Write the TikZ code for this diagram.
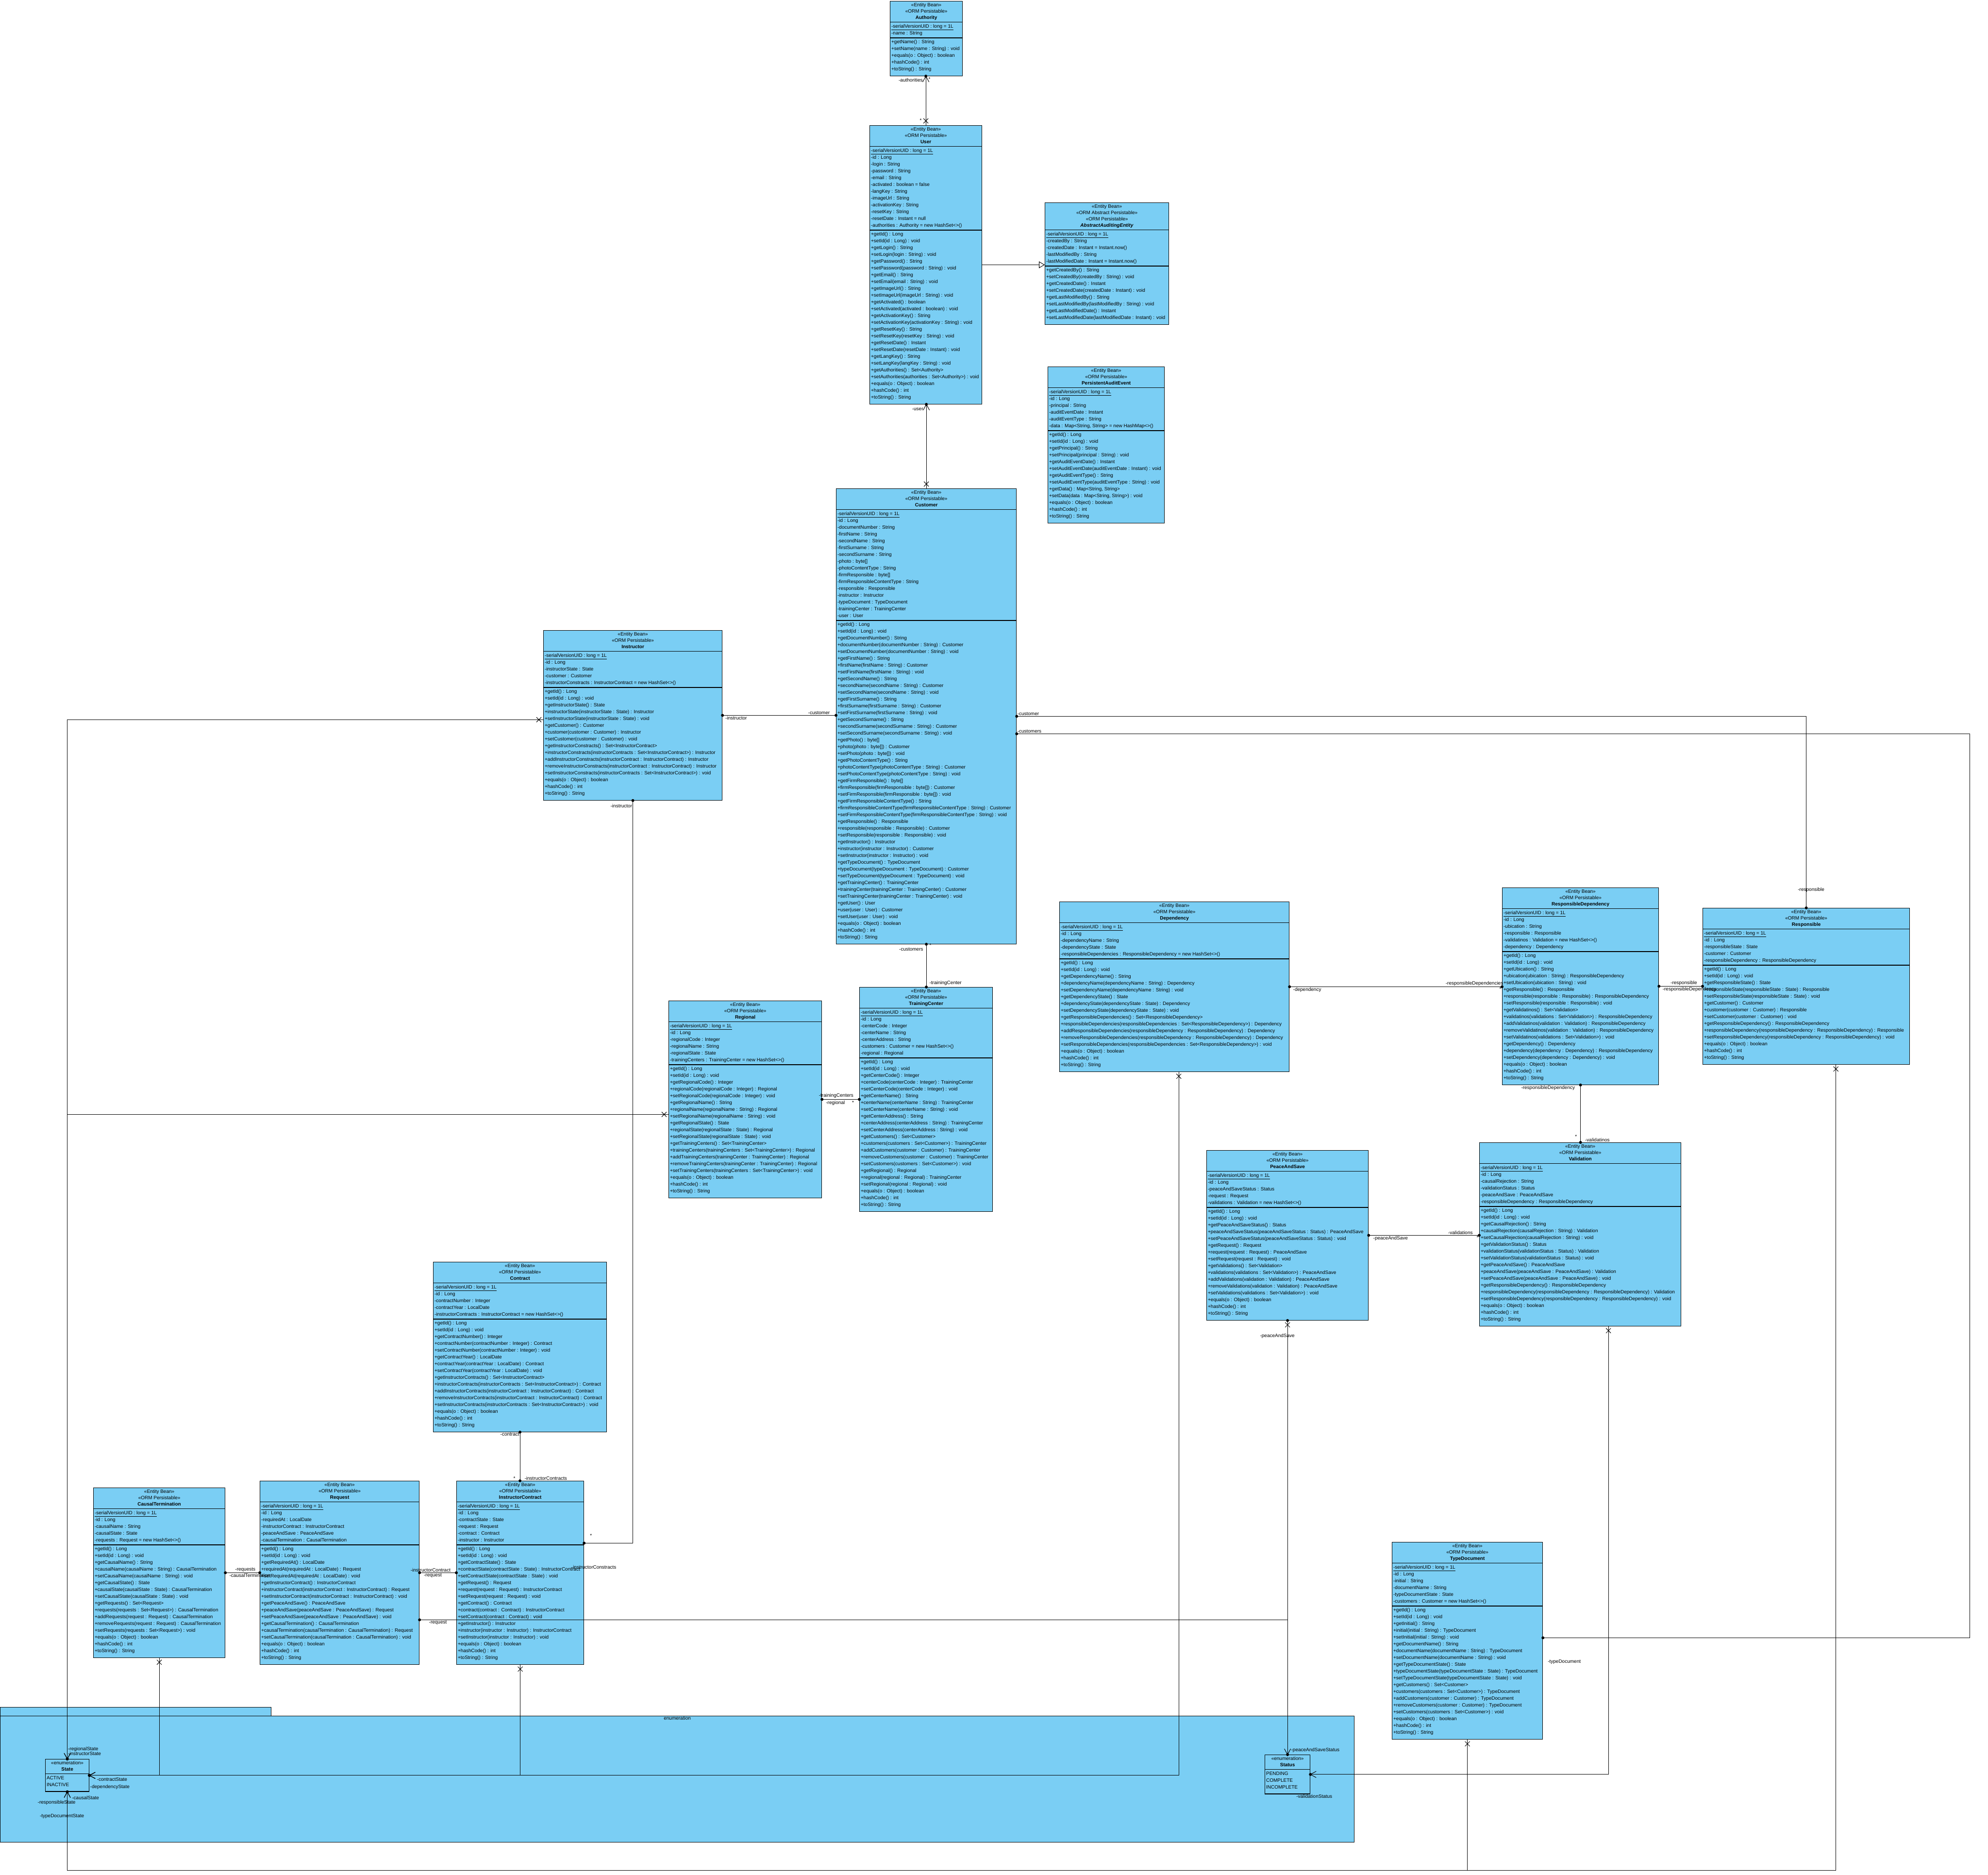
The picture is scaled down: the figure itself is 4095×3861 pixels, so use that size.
\documentclass[tikz,border=0pt]{standalone}
\usepackage{fontspec}
\setmainfont{Liberation Sans}
\usetikzlibrary{arrows.meta,positioning,shapes.multipart,decorations.markings}
\definecolor{vpblue}{HTML}{7ACEF4}
\newcommand\clshead[1]{{\def\arraystretch{.9286}\begin{tabular}{@{}c@{}}#1\end{tabular}}}
\newcommand\clsattr[1]{\begin{tabular}{@{}l@{}}#1\end{tabular}}
\newcommand\clsops[1]{\begin{tabular}{@{}l@{}}#1\\[4pt]\end{tabular}}
\newcommand\ebhead[1]{\clshead{<<Entity Bean>>\\<<ORM Persistable>>\\\textbf{#1}}}
\newcommand\suid{\underline{-serialVersionUID : long = 1L}}
\tikzset{cls/.style={rectangle split,rectangle split parts=3,rectangle split part align={center,left,left},draw,line width=1.2pt,fill=vpblue,inner xsep=2.5pt,inner ysep=1.5pt,anchor=north west,font=\fontsize{10}{14}\selectfont},enumcls/.style={cls,rectangle split parts=2,rectangle split part align={center,left}},pkgbox/.style={draw,line width=1.2pt,fill=vpblue,anchor=north west,inner sep=0pt},assoc/.style={line width=1pt},lbl/.style={font=\fontsize{10}{12}\selectfont,inner sep=1pt},gen/.style={assoc,-{Triangle[fill=white,length=12pt,width=14pt]}},dotA/.style={postaction={decorate,decoration={markings,mark=at position 0 with {\fill circle (3pt);}}}},dotB/.style={postaction={decorate,decoration={markings,mark=at position 1 with {\fill circle (3pt);}}}},navB/.style={dotB,postaction={decorate,decoration={markings,mark=at position 1 with {\draw[line width=1pt] (-12pt,6.5pt) -- (0pt,0pt) -- (-12pt,-6.5pt);}}}},crossA/.style={postaction={decorate,decoration={markings,mark=at position 9pt with {\draw[line width=1pt] (-5pt,-5pt) -- (5pt,5pt) (-5pt,5pt) -- (5pt,-5pt);}}}}}

\begin{document}
\begin{tikzpicture}[x=1pt,y=-1pt]
\useasboundingbox (0,0) rectangle (4095,3861);
% enumeration package
\node[pkgbox,minimum width=558pt,minimum height=18pt] (pkgtab) at (0,3516) {};
\node[pkgbox,minimum width=2789pt,minimum height=260pt,label={[lbl,anchor=north]north:enumeration}] (pkg) at (0,3534) {};
\coordinate (rail) at (0,3852);
% classes
\node[cls,minimum width=149pt] (authority) at (1833,2) {\ebhead{Authority}\nodepart{two}\clsattr{\suid\\-name : String}\nodepart{three}\clsops{+getName() : String\\+setName(name : String) : void\\+equals(o : Object) : boolean\\+hashCode() : int\\+toString() : String}};
\node[cls,minimum width=231pt] (user) at (1791,258) {\ebhead{User}\nodepart{two}\clsattr{\suid\\-id : Long\\-login : String\\-password : String\\-email : String\\-activated : boolean = false\\-langKey : String\\-imageUrl : String\\-activationKey : String\\-resetKey : String\\-resetDate : Instant = null\\-authorities : Authority = new HashSet<>()}\nodepart{three}\clsops{+getId() : Long\\+setId(id : Long) : void\\+getLogin() : String\\+setLogin(login : String) : void\\+getPassword() : String\\+setPassword(password : String) : void\\+getEmail() : String\\+setEmail(email : String) : void\\+getImageUrl() : String\\+setImageUrl(imageUrl : String) : void\\+getActivated() : boolean\\+setActivated(activated : boolean) : void\\+getActivationKey() : String\\+setActivationKey(activationKey : String) : void\\+getResetKey() : String\\+setResetKey(resetKey : String) : void\\+getResetDate() : Instant\\+setResetDate(resetDate : Instant) : void\\+getLangKey() : String\\+setLangKey(langKey : String) : void\\+getAuthorities() : Set<Authority>\\+setAuthorities(authorities : Set<Authority>) : void\\+equals(o : Object) : boolean\\+hashCode() : int\\+toString() : String}};
\node[cls,minimum width=255pt] (auditing) at (2152,417) {\clshead{<<Entity Bean>>\\<<ORM Abstract Persistable>>\\<<ORM Persistable>>\\\textbf{\textit{AbstractAuditingEntity}}}\nodepart{two}\clsattr{\suid\\-createdBy : String\\-createdDate : Instant = Instant.now()\\-lastModifiedBy : String\\-lastModifiedDate : Instant = Instant.now()}\nodepart{three}\clsops{+getCreatedBy() : String\\+setCreatedBy(createdBy : String) : void\\+getCreatedDate() : Instant\\+setCreatedDate(createdDate : Instant) : void\\+getLastModifiedBy() : String\\+setLastModifiedBy(lastModifiedBy : String) : void\\+getLastModifiedDate() : Instant\\+setLastModifiedDate(lastModifiedDate : Instant) : void}};
\node[cls,minimum width=240pt] (auditevent) at (2158,755) {\ebhead{PersistentAuditEvent}\nodepart{two}\clsattr{\suid\\-id : Long\\-principal : String\\-auditEventDate : Instant\\-auditEventType : String\\-data : Map<String, String> = new HashMap<>()}\nodepart{three}\clsops{+getId() : Long\\+setId(id : Long) : void\\+getPrincipal() : String\\+setPrincipal(principal : String) : void\\+getAuditEventDate() : Instant\\+setAuditEventDate(auditEventDate : Instant) : void\\+getAuditEventType() : String\\+setAuditEventType(auditEventType : String) : void\\+getData() : Map<String, String>\\+setData(data : Map<String, String>) : void\\+equals(o : Object) : boolean\\+hashCode() : int\\+toString() : String}};
\node[cls,minimum width=371pt] (customer) at (1722,1006) {\ebhead{Customer}\nodepart{two}\clsattr{\suid\\-id : Long\\-documentNumber : String\\-firstName : String\\-secondName : String\\-firstSurname : String\\-secondSurname : String\\-photo : byte[]\\-photoContentType : String\\-firmResponsible : byte[]\\-firmResponsibleContentType : String\\-responsible : Responsible\\-instructor : Instructor\\-typeDocument : TypeDocument\\-trainingCenter : TrainingCenter\\-user : User}\nodepart{three}\clsops{+getId() : Long\\+setId(id : Long) : void\\+getDocumentNumber() : String\\+documentNumber(documentNumber : String) : Customer\\+setDocumentNumber(documentNumber : String) : void\\+getFirstName() : String\\+firstName(firstName : String) : Customer\\+setFirstName(firstName : String) : void\\+getSecondName() : String\\+secondName(secondName : String) : Customer\\+setSecondName(secondName : String) : void\\+getFirstSurname() : String\\+firstSurname(firstSurname : String) : Customer\\+setFirstSurname(firstSurname : String) : void\\+getSecondSurname() : String\\+secondSurname(secondSurname : String) : Customer\\+setSecondSurname(secondSurname : String) : void\\+getPhoto() : byte[]\\+photo(photo : byte[]) : Customer\\+setPhoto(photo : byte[]) : void\\+getPhotoContentType() : String\\+photoContentType(photoContentType : String) : Customer\\+setPhotoContentType(photoContentType : String) : void\\+getFirmResponsible() : byte[]\\+firmResponsible(firmResponsible : byte[]) : Customer\\+setFirmResponsible(firmResponsible : byte[]) : void\\+getFirmResponsibleContentType() : String\\+firmResponsibleContentType(firmResponsibleContentType : String) : Customer\\+setFirmResponsibleContentType(firmResponsibleContentType : String) : void\\+getResponsible() : Responsible\\+responsible(responsible : Responsible) : Customer\\+setResponsible(responsible : Responsible) : void\\+getInstructor() : Instructor\\+instructor(instructor : Instructor) : Customer\\+setInstructor(instructor : Instructor) : void\\+getTypeDocument() : TypeDocument\\+typeDocument(typeDocument : TypeDocument) : Customer\\+setTypeDocument(typeDocument : TypeDocument) : void\\+getTrainingCenter() : TrainingCenter\\+trainingCenter(trainingCenter : TrainingCenter) : Customer\\+setTrainingCenter(trainingCenter : TrainingCenter) : void\\+getUser() : User\\+user(user : User) : Customer\\+setUser(user : User) : void\\+equals(o : Object) : boolean\\+hashCode() : int\\+toString() : String}};
\node[cls,minimum width=368pt] (instructor) at (1119,1298) {\ebhead{Instructor}\nodepart{two}\clsattr{\suid\\-id : Long\\-instructorState : State\\-customer : Customer\\-instructorConstracts : InstructorContract = new HashSet<>()}\nodepart{three}\clsops{+getId() : Long\\+setId(id : Long) : void\\+getInstructorState() : State\\+instructorState(instructorState : State) : Instructor\\+setInstructorState(instructorState : State) : void\\+getCustomer() : Customer\\+customer(customer : Customer) : Instructor\\+setCustomer(customer : Customer) : void\\+getInstructorConstracts() : Set<InstructorContract>\\+instructorConstracts(instructorContracts : Set<InstructorContract>) : Instructor\\+addInstructorConstracts(instructorContract : InstructorContract) : Instructor\\+removeInstructorConstracts(instructorContract : InstructorContract) : Instructor\\+setInstructorConstracts(instructorContracts : Set<InstructorContract>) : void\\+equals(o : Object) : boolean\\+hashCode() : int\\+toString() : String}};
\node[cls,minimum width=315pt] (regional) at (1377,2061) {\ebhead{Regional}\nodepart{two}\clsattr{\suid\\-id : Long\\-regionalCode : Integer\\-regionalName : String\\-regionalState : State\\-trainingCenters : TrainingCenter = new HashSet<>()}\nodepart{three}\clsops{+getId() : Long\\+setId(id : Long) : void\\+getRegionalCode() : Integer\\+regionalCode(regionalCode : Integer) : Regional\\+setRegionalCode(regionalCode : Integer) : void\\+getRegionalName() : String\\+regionalName(regionalName : String) : Regional\\+setRegionalName(regionalName : String) : void\\+getRegionalState() : State\\+regionalState(regionalState : State) : Regional\\+setRegionalState(regionalState : State) : void\\+getTrainingCenters() : Set<TrainingCenter>\\+trainingCenters(trainingCenters : Set<TrainingCenter>) : Regional\\+addTrainingCenters(trainingCenter : TrainingCenter) : Regional\\+removeTrainingCenters(trainingCenter : TrainingCenter) : Regional\\+setTrainingCenters(trainingCenters : Set<TrainingCenter>) : void\\+equals(o : Object) : boolean\\+hashCode() : int\\+toString() : String}};
\node[cls,minimum width=274pt] (center) at (1770,2033) {\ebhead{TrainingCenter}\nodepart{two}\clsattr{\suid\\-id : Long\\-centerCode : Integer\\-centerName : String\\-centerAddress : String\\-customers : Customer = new HashSet<>()\\-regional : Regional}\nodepart{three}\clsops{+getId() : Long\\+setId(id : Long) : void\\+getCenterCode() : Integer\\+centerCode(centerCode : Integer) : TrainingCenter\\+setCenterCode(centerCode : Integer) : void\\+getCenterName() : String\\+centerName(centerName : String) : TrainingCenter\\+setCenterName(centerName : String) : void\\+getCenterAddress() : String\\+centerAddress(centerAddress : String) : TrainingCenter\\+setCenterAddress(centerAddress : String) : void\\+getCustomers() : Set<Customer>\\+customers(customers : Set<Customer>) : TrainingCenter\\+addCustomers(customer : Customer) : TrainingCenter\\+removeCustomers(customer : Customer) : TrainingCenter\\+setCustomers(customers : Set<Customer>) : void\\+getRegional() : Regional\\+regional(regional : Regional) : TrainingCenter\\+setRegional(regional : Regional) : void\\+equals(o : Object) : boolean\\+hashCode() : int\\+toString() : String}};
\node[cls,minimum width=473pt] (dependency) at (2182,1857) {\ebhead{Dependency}\nodepart{two}\clsattr{\suid\\-id : Long\\-dependencyName : String\\-dependencyState : State\\-responsibleDependencies : ResponsibleDependency = new HashSet<>()}\nodepart{three}\clsops{+getId() : Long\\+setId(id : Long) : void\\+getDependencyName() : String\\+dependencyName(dependencyName : String) : Dependency\\+setDependencyName(dependencyName : String) : void\\+getDependencyState() : State\\+dependencyState(dependencyState : State) : Dependency\\+setDependencyState(dependencyState : State) : void\\+getResponsibleDependencies() : Set<ResponsibleDependency>\\+responsibleDependencies(responsibleDependencies : Set<ResponsibleDependency>) : Dependency\\+addResponsibleDependencies(responsibleDependency : ResponsibleDependency) : Dependency\\+removeResponsibleDependencies(responsibleDependency : ResponsibleDependency) : Dependency\\+setResponsibleDependencies(responsibleDependencies : Set<ResponsibleDependency>) : void\\+equals(o : Object) : boolean\\+hashCode() : int\\+toString() : String}};
\node[cls,minimum width=333pt] (peace) at (2485,2369) {\ebhead{PeaceAndSave}\nodepart{two}\clsattr{\suid\\-id : Long\\-peaceAndSaveStatus : Status\\-request : Request\\-validations : Validation = new HashSet<>()}\nodepart{three}\clsops{+getId() : Long\\+setId(id : Long) : void\\+getPeaceAndSaveStatus() : Status\\+peaceAndSaveStatus(peaceAndSaveStatus : Status) : PeaceAndSave\\+setPeaceAndSaveStatus(peaceAndSaveStatus : Status) : void\\+getRequest() : Request\\+request(request : Request) : PeaceAndSave\\+setRequest(request : Request) : void\\+getValidations() : Set<Validation>\\+validations(validations : Set<Validation>) : PeaceAndSave\\+addValidations(validation : Validation) : PeaceAndSave\\+removeValidations(validation : Validation) : PeaceAndSave\\+setValidations(validations : Set<Validation>) : void\\+equals(o : Object) : boolean\\+hashCode() : int\\+toString() : String}};
\node[cls,minimum width=322pt] (respdep) at (3094,1828) {\ebhead{ResponsibleDependency}\nodepart{two}\clsattr{\suid\\-id : Long\\-ubication : String\\-responsible : Responsible\\-validatinos : Validation = new HashSet<>()\\-dependency : Dependency}\nodepart{three}\clsops{+getId() : Long\\+setId(id : Long) : void\\+getUbication() : String\\+ubication(ubication : String) : ResponsibleDependency\\+setUbication(ubication : String) : void\\+getResponsible() : Responsible\\+responsible(responsible : Responsible) : ResponsibleDependency\\+setResponsible(responsible : Responsible) : void\\+getValidatinos() : Set<Validation>\\+validatinos(validations : Set<Validation>) : ResponsibleDependency\\+addValidatinos(validation : Validation) : ResponsibleDependency\\+removeValidatinos(validation : Validation) : ResponsibleDependency\\+setValidatinos(validations : Set<Validation>) : void\\+getDependency() : Dependency\\+dependency(dependency : Dependency) : ResponsibleDependency\\+setDependency(dependency : Dependency) : void\\+equals(o : Object) : boolean\\+hashCode() : int\\+toString() : String}};
\node[cls,minimum width=426pt] (responsible) at (3507,1870) {\ebhead{Responsible}\nodepart{two}\clsattr{\suid\\-id : Long\\-responsibleState : State\\-customer : Customer\\-responsibleDependency : ResponsibleDependency}\nodepart{three}\clsops{+getId() : Long\\+setId(id : Long) : void\\+getResponsibleState() : State\\+responsibleState(responsibleState : State) : Responsible\\+setResponsibleState(responsibleState : State) : void\\+getCustomer() : Customer\\+customer(customer : Customer) : Responsible\\+setCustomer(customer : Customer) : void\\+getResponsibleDependency() : ResponsibleDependency\\+responsibleDependency(responsibleDependency : ResponsibleDependency) : Responsible\\+setResponsibleDependency(responsibleDependency : ResponsibleDependency) : void\\+equals(o : Object) : boolean\\+hashCode() : int\\+toString() : String}};
\node[cls,minimum width=415pt] (validation) at (3047,2353) {\ebhead{Validation}\nodepart{two}\clsattr{\suid\\-id : Long\\-causalRejection : String\\-validationStatus : Status\\-peaceAndSave : PeaceAndSave\\-responsibleDependency : ResponsibleDependency}\nodepart{three}\clsops{+getId() : Long\\+setId(id : Long) : void\\+getCausalRejection() : String\\+causalRejection(causalRejection : String) : Validation\\+setCausalRejection(causalRejection : String) : void\\+getValidationStatus() : Status\\+validationStatus(validationStatus : Status) : Validation\\+setValidationStatus(validationStatus : Status) : void\\+getPeaceAndSave() : PeaceAndSave\\+peaceAndSave(peaceAndSave : PeaceAndSave) : Validation\\+setPeaceAndSave(peaceAndSave : PeaceAndSave) : void\\+getResponsibleDependency() : ResponsibleDependency\\+responsibleDependency(responsibleDependency : ResponsibleDependency) : Validation\\+setResponsibleDependency(responsibleDependency : ResponsibleDependency) : void\\+equals(o : Object) : boolean\\+hashCode() : int\\+toString() : String}};
\node[cls,minimum width=357pt] (contract) at (892,2599) {\ebhead{Contract}\nodepart{two}\clsattr{\suid\\-id : Long\\-contractNumber : Integer\\-contractYear : LocalDate\\-instructorContracts : InstructorContract = new HashSet<>()}\nodepart{three}\clsops{+getId() : Long\\+setId(id : Long) : void\\+getContractNumber() : Integer\\+contractNumber(contractNumber : Integer) : Contract\\+setContractNumber(contractNumber : Integer) : void\\+getContractYear() : LocalDate\\+contractYear(contractYear : LocalDate) : Contract\\+setContractYear(contractYear : LocalDate) : void\\+getInstructorContracts() : Set<InstructorContract>\\+instructorContracts(instructorContracts : Set<InstructorContract>) : Contract\\+addInstructorContracts(instructorContract : InstructorContract) : Contract\\+removeInstructorContracts(instructorContract : InstructorContract) : Contract\\+setInstructorContracts(instructorContracts : Set<InstructorContract>) : void\\+equals(o : Object) : boolean\\+hashCode() : int\\+toString() : String}};
\node[cls,minimum width=271pt] (causal) at (192,3064) {\ebhead{CausalTermination}\nodepart{two}\clsattr{\suid\\-id : Long\\-causalName : String\\-causalState : State\\-requests : Request = new HashSet<>()}\nodepart{three}\clsops{+getId() : Long\\+setId(id : Long) : void\\+getCausalName() : String\\+causalName(causalName : String) : CausalTermination\\+setCausalName(causalName : String) : void\\+getCausalState() : State\\+causalState(causalState : State) : CausalTermination\\+setCausalState(causalState : State) : void\\+getRequests() : Set<Request>\\+requests(requests : Set<Request>) : CausalTermination\\+addRequests(request : Request) : CausalTermination\\+removeRequests(request : Request) : CausalTermination\\+setRequests(requests : Set<Request>) : void\\+equals(o : Object) : boolean\\+hashCode() : int\\+toString() : String}};
\node[cls,minimum width=328pt] (request) at (535,3050) {\ebhead{Request}\nodepart{two}\clsattr{\suid\\-id : Long\\-requiredAt : LocalDate\\-instructorContract : InstructorContract\\-peaceAndSave : PeaceAndSave\\-causalTermination : CausalTermination}\nodepart{three}\clsops{+getId() : Long\\+setId(id : Long) : void\\+getRequiredAt() : LocalDate\\+requiredAt(requiredAt : LocalDate) : Request\\+setRequiredAt(requiredAt : LocalDate) : void\\+getInstructorContract() : InstructorContract\\+instructorContract(instructorContract : InstructorContract) : Request\\+setInstructorContract(instructorContract : InstructorContract) : void\\+getPeaceAndSave() : PeaceAndSave\\+peaceAndSave(peaceAndSave : PeaceAndSave) : Request\\+setPeaceAndSave(peaceAndSave : PeaceAndSave) : void\\+getCausalTermination() : CausalTermination\\+causalTermination(causalTermination : CausalTermination) : Request\\+setCausalTermination(causalTermination : CausalTermination) : void\\+equals(o : Object) : boolean\\+hashCode() : int\\+toString() : String}};
\node[cls,minimum width=262pt] (instcontract) at (940,3050) {\ebhead{InstructorContract}\nodepart{two}\clsattr{\suid\\-id : Long\\-contractState : State\\-request : Request\\-contract : Contract\\-instructor : Instructor}\nodepart{three}\clsops{+getId() : Long\\+setId(id : Long) : void\\+getContractState() : State\\+contractState(contractState : State) : InstructorContract\\+setContractState(contractState : State) : void\\+getRequest() : Request\\+request(request : Request) : InstructorContract\\+setRequest(request : Request) : void\\+getContract() : Contract\\+contract(contract : Contract) : InstructorContract\\+setContract(contract : Contract) : void\\+getInstructor() : Instructor\\+instructor(instructor : Instructor) : InstructorContract\\+setInstructor(instructor : Instructor) : void\\+equals(o : Object) : boolean\\+hashCode() : int\\+toString() : String}};
\node[cls,minimum width=310pt] (typedoc) at (2867,3176) {\ebhead{TypeDocument}\nodepart{two}\clsattr{\suid\\-id : Long\\-initial : String\\-documentName : String\\-typeDocumentState : State\\-customers : Customer = new HashSet<>()}\nodepart{three}\clsops{+getId() : Long\\+setId(id : Long) : void\\+getInitial() : String\\+initial(initial : String) : TypeDocument\\+setInitial(initial : String) : void\\+getDocumentName() : String\\+documentName(documentName : String) : TypeDocument\\+setDocumentName(documentName : String) : void\\+getTypeDocumentState() : State\\+typeDocumentState(typeDocumentState : State) : TypeDocument\\+setTypeDocumentState(typeDocumentState : State) : void\\+getCustomers() : Set<Customer>\\+customers(customers : Set<Customer>) : TypeDocument\\+addCustomers(customer : Customer) : TypeDocument\\+removeCustomers(customer : Customer) : TypeDocument\\+setCustomers(customers : Set<Customer>) : void\\+equals(o : Object) : boolean\\+hashCode() : int\\+toString() : String}};
\node[enumcls,minimum width=90pt] (state) at (93,3623) {\clshead{<<enumeration>>\\\textbf{State}}\nodepart{two}\clsops{ACTIVE\\INACTIVE}};
\node[enumcls,minimum width=93pt] (status) at (2605,3614) {\clshead{<<enumeration>>\\\textbf{Status}}\nodepart{two}\clsops{PENDING\\COMPLETE\\INCOMPLETE}};
% associations
\draw[assoc,crossA,navB] (user.north) -- node[lbl,pos=.92,left=5pt]{-authorities} node[lbl,pos=.94,right=4pt]{*} node[lbl,pos=.1,left=7pt]{*} (user.north |- authority.south);
\draw[gen] (user.east) -- (user.east -| auditing.west);
\draw[assoc,crossA,navB] (customer.north) -- node[lbl,pos=.94,left=5pt]{-user} (customer.north |- user.south);
\draw[assoc,dotA,dotB] (instructor.east) -- node[lbl,pos=.12,below]{-instructor} node[lbl,pos=.85,above]{-customer} (instructor.east -| customer.west);
\draw[assoc,dotA,dotB] (customer.east) -| node[lbl,at start,above right]{-customer} node[lbl,pos=.953,xshift=10pt]{-responsible} (responsible.north);
\draw[assoc,dotA,dotB] ([yshift=-36pt]customer.east) -| node[lbl,at start,above right]{-customers} ([xshift=879pt,yshift=6pt]typedoc.east) -- node[lbl,pos=.95,below=44pt]{-typeDocument} ([yshift=6pt]typedoc.east);
\draw[assoc,dotA,dotB] (customer.south) -- node[lbl,pos=.12,left=5pt]{-customers} node[lbl,pos=.03,right=5pt]{*} node[lbl,pos=.91,right=5pt]{-trainingCenter} (customer.south |- center.north);
\draw[assoc,dotA,dotB] (regional.east) -- node[lbl,pos=.38,above=1pt]{-trainingCenters} node[lbl,pos=.36,below=1pt]{-regional} node[lbl,pos=.83,below=2pt]{*} (regional.east -| center.west);
\draw[assoc,dotA,dotB] (instructor.south) |- node[lbl,at start,below left,yshift=-6pt]{-instructor} node[lbl,pos=.93,above=10pt]{*} node[lbl,pos=.9,below=44pt]{-instructorConstracts} ([yshift=61pt]instcontract.east);
\draw[assoc,crossA,navB] ([yshift=-9pt]instructor.west) -| node[lbl,at end,anchor=south west,yshift=6pt]{-instructorState} (state.north);
\draw[assoc,crossA,navB] ([yshift=-31pt]regional.west) -| node[lbl,at end,anchor=south west,yshift=14pt]{-regionalState} (state.north);
\draw[assoc,dotA,dotB] (dependency.east) -- node[lbl,at start,below right,xshift=6pt]{-dependency} node[lbl,pos=.87,above]{-responsibleDependencies} node[lbl,at end,below left]{*} (dependency.east -| respdep.west);
\draw[assoc,dotA,dotB] (respdep.east) -- node[lbl,pos=.57,above]{-responsible} node[lbl,pos=.7,below]{-responsibleDependency} (respdep.east -| responsible.west);
\draw[assoc,dotA,dotB] (respdep.south) -- node[lbl,at start,below left,xshift=-10pt]{-responsibleDependency} node[lbl,pos=.9,left=6pt]{*} node[lbl,at end,above right,xshift=8pt]{-validatinos} (respdep.south |- validation.north);
\draw[assoc,dotA,dotB] (peace.east) -- node[lbl,at start,below right,xshift=8pt]{-peaceAndSave} node[lbl,pos=.83,above]{-validations} node[lbl,at end,below left]{*} (peace.east -| validation.west);
\draw[assoc,dotA,dotB] (contract.south) -- node[lbl,at start,below left]{-contract} node[lbl,at end,above right,xshift=8pt]{-instructorContracts} node[lbl,at end,above left,xshift=-8pt]{*} (contract.south |- instcontract.north);
\draw[assoc,dotA,dotB] (causal.east) -- node[lbl,pos=.58,above]{-requests} node[lbl,pos=.71,below]{-causalTermination} (causal.east -| request.west);
\draw[assoc,dotA,dotB] (request.east) -- node[lbl,pos=.3,above]{-instructorContract} node[lbl,pos=.36,below]{-request} (request.east -| instcontract.west);
\draw[assoc,dotA,dotB] ([yshift=-97pt]request.east) -| node[lbl,at start,below right,xshift=18pt]{-request} node[lbl,pos=.974,xshift=-21pt]{-peaceAndSave} (peace.south);
\draw[assoc,crossA,navB] (peace.south) -- node[lbl,at end,above right,xshift=6pt,yshift=3pt]{-peaceAndSaveStatus} (peace.south |- status.north);
\draw[assoc,crossA,navB] ([xshift=58pt]validation.south) |- node[lbl,at end,xshift=8pt,yshift=-45pt]{-validationStatus} (status.east);
\draw[assoc,crossA,navB] (causal.south) |- node[lbl,at end,xshift=-8pt,yshift=-46pt]{-causalState} (state.east);
\draw[assoc,crossA,navB] (instcontract.south) |- node[lbl,at end,anchor=north west,xshift=14pt,yshift=-3pt]{-contractState} (state.east);
\draw[assoc,crossA,navB] ([xshift=9pt]dependency.south) |- node[lbl,at end,anchor=west,yshift=-24pt]{-dependencyState} (state.east);
\draw[assoc,crossA,navB] ([xshift=61pt]responsible.south) -- ([xshift=61pt]responsible.south |- rail) -| node[lbl,at end,xshift=-22pt,yshift=-22pt]{-responsibleState} (state.south);
\draw[assoc,crossA,navB] (typedoc.south) -- (typedoc.south |- rail) -| node[lbl,at end,xshift=-11pt,yshift=-50pt]{-typeDocumentState} (state.south);
\end{tikzpicture}
\end{document}
